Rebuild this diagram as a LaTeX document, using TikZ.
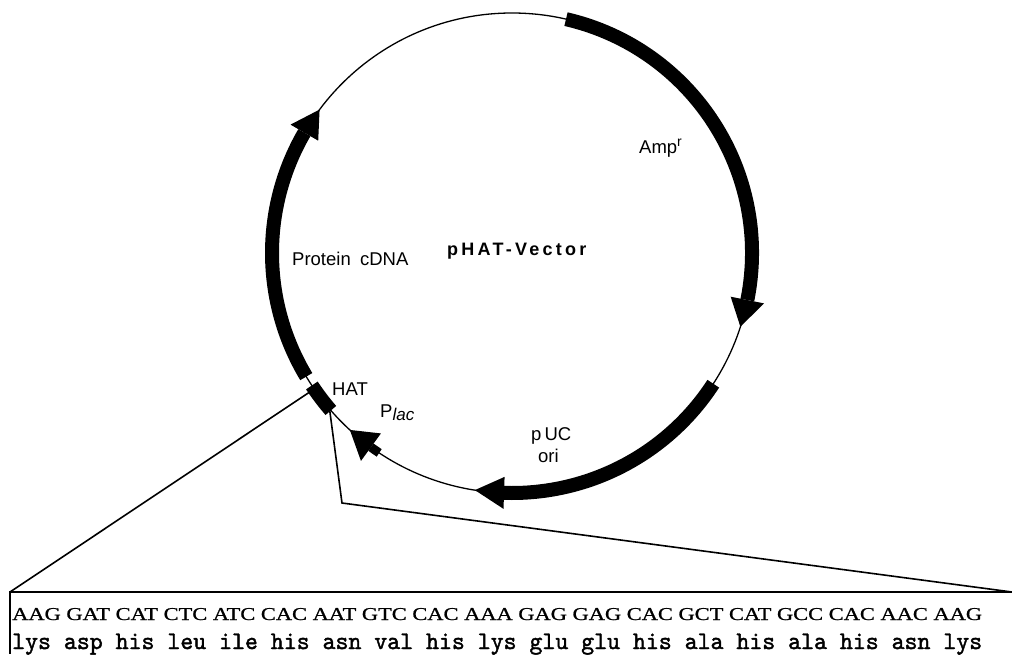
\documentclass[tikz,border=0pt]{standalone}
\usepackage{fontspec}
\usepackage{graphicx}
\setmainfont{Liberation Sans}
\newfontfamily\serifseq[FakeBold=0.8]{Liberation Serif}
\newfontfamily\monoseq[FakeBold=1.6]{Latin Modern Mono}
\newfontfamily\spacedbold[LetterSpace=18]{Liberation Sans Bold}
\begin{document}
\begin{tikzpicture}[x=1pt,y=-1pt,
  thinring/.style={line width=1.3pt},
  band/.style={line width=14pt},
  conn/.style={line width=1.6pt},
  boxline/.style={line width=2.2pt},
  lbl/.style={font=\fontsize{18.5}{21}\selectfont, inner sep=0pt, anchor=base west}]
\fill[white] (0,0) rectangle (1012,654);
\useasboundingbox (0,0) rectangle (1012,654);

\begin{scope}[shift={(512,253)}]
  % backbone
  \draw[thinring] (0,0) circle[radius=240pt];
  % Amp^r
  \draw[band] (77:240pt) arc[start angle=77,end angle=-11.3,radius=240pt];
  \fill (-11.3:257pt) -- (-17.9:240pt) -- (-11.3:223pt) -- cycle;
  % pUC ori
  \draw[band] (-33:240pt) arc[start angle=-33,end angle=-91.9,radius=240pt];
  \fill (-91.9:256pt) -- (-98.9:240pt) -- (-91.9:224pt) -- cycle;
  % P lac
  \draw[line width=9pt] (-123.6:240pt) arc[start angle=-123.6,end angle=-126,radius=240pt];
  \fill (-126:257pt) -- (-132.5:240pt) -- (-126:223pt) -- cycle;
  % HAT
  \draw[band] (213.5:240pt) arc[start angle=213.5,end angle=221,radius=240pt];
  % Protein cDNA
  \draw[band] (211:240pt) arc[start angle=211,end angle=149.9,radius=240pt];
  \fill (149.9:256pt) -- (143.3:240pt) -- (149.9:224pt) -- cycle;
  \coordinate (hatU) at (214.5:245pt);
  \coordinate (hatL) at (220.5:240pt);
\end{scope}

% labels
\node[lbl] (amp) at (639,153) {Amp\textsuperscript{\fontsize{14}{14}\selectfont r}};
\node[lbl] (prot) at (292,265) {Protein\hspace{0.5em}cDNA};
\node[inner sep=0pt, anchor=base west, font=\fontsize{18}{21}\selectfont\spacedbold] (title) at (447,255) {pHAT-Vector};
\node[lbl] (hat) at (332,395) {HAT};
\node[lbl] (plac) at (380,417) {P{\itshape\fontsize{17}{18}\selectfont\raisebox{-3pt}{lac}}};
\node[lbl] (puc) at (531,440) {p\,UC};
\node[lbl] (ori) at (538,462) {ori};

% expansion box and connectors
\coordinate (boxTL) at (10,592);
\coordinate (boxTR) at (1012,592);
\coordinate (boxBL) at (10,654);
\coordinate (bend) at (342,503);
\draw[conn] (hatU) -- (boxTL);
\draw[conn] (hatL) -- (bend) -- (boxTR);
\draw[boxline] (boxTR) -- (boxTL) -- (boxBL);

\node[inner sep=0pt, anchor=base west] (dna) at (12,620)
  {\resizebox{970pt}{12pt}{\serifseq AAG GAT CAT CTC ATC CAC AAT GTC CAC AAA GAG GAG CAC GCT CAT GCC CAC AAC AAG}};
\node[inner sep=0pt, anchor=base west] (aa) at (12,649)
  {\resizebox{970pt}{15.5pt}{\monoseq lys asp his leu ile his asn val his lys glu glu his ala his ala his asn lys}};
\end{tikzpicture}
\end{document}
